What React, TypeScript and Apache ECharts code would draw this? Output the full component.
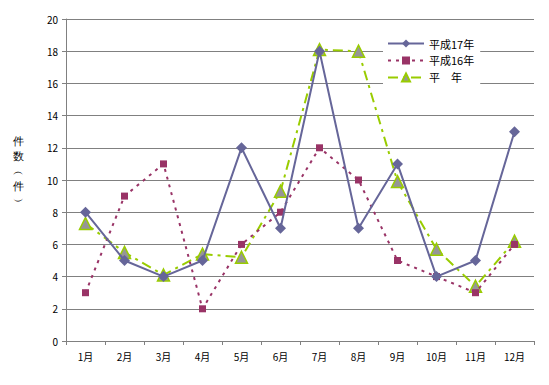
import React, { useEffect, useRef } from "react";
import * as echarts from "echarts";

const months = ["1月", "2月", "3月", "4月", "5月", "6月", "7月", "8月", "9月", "10月", "11月", "12月"];
const h17 = [8, 5, 4, 5, 12, 7, 18, 7, 11, 4, 5, 13];
const h16 = [3, 9, 11, 2, 6, 8, 12, 10, 5, 4, 3, 6];
const heinen = [7.3, 5.5, 4.1, 5.4, 5.2, 9.3, 18.1, 18.0, 9.9, 5.7, 3.4, 6.2];
const yTicks = { min: 0, max: 20, interval: 2 };

const FONT = "'Noto Sans CJK JP', sans-serif";

export default function App() {
  const ref = useRef<HTMLDivElement>(null);
  useEffect(() => {
    if (!ref.current) return;
    const chart = echarts.init(ref.current, undefined, { renderer: "svg" });
    chart.setOption({
      animation: false,
      backgroundColor: "#ffffff",
      textStyle: { fontFamily: FONT },
      grid: { left: 66, top: 19, right: 15, bottom: 44 },
      legend: {
        orient: "vertical",
        left: 383,
        top: 35,
        itemWidth: 36,
        itemHeight: 10,
        itemGap: 6,
        padding: [3, 6, 3, 4],
        backgroundColor: "#ffffff",
        textStyle: { fontSize: 11, color: "#000", fontFamily: FONT },
        data: ["平成17年", "平成16年", "平　年"],
      },
      graphic: [
        {
          type: "text",
          left: 13,
          top: 133,
          style: {
            text: "件\n数\n︵\n件\n︶",
            fontSize: 11,
            lineHeight: 15,
            fill: "#000",
            font: `11px ${FONT}`,
          },
        },
      ],
      xAxis: {
        type: "category",
        data: months,
        boundaryGap: true,
        axisLine: { lineStyle: { color: "#808080", width: 1 } },
        axisTick: { show: true, alignWithLabel: false, length: 4, lineStyle: { color: "#808080" } },
        axisLabel: { color: "#000", fontSize: 10, margin: 10, fontFamily: FONT },
      },
      yAxis: {
        type: "value",
        min: yTicks.min,
        max: yTicks.max,
        interval: yTicks.interval,
        axisLine: { show: true, lineStyle: { color: "#808080", width: 1 } },
        axisTick: { show: true, length: 4, lineStyle: { color: "#808080" } },
        axisLabel: { color: "#000", fontSize: 10, margin: 8, fontFamily: FONT },
        splitLine: { show: true, lineStyle: { color: "#808080", width: 1 } },
      },
      series: [
        {
          name: "平成17年",
          type: "line",
          data: h17,
          symbol: "diamond",
          symbolSize: 11,
          itemStyle: { color: "#666699" },
          lineStyle: { color: "#666699", width: 2 },
          z: 4,
        },
        {
          name: "平成16年",
          type: "line",
          data: h16,
          symbol: "rect",
          symbolSize: 7,
          itemStyle: { color: "#993366" },
          lineStyle: { color: "#993366", width: 2, type: [3, 5] },
          z: 3,
        },
        {
          name: "平　年",
          type: "line",
          data: heinen,
          symbol: "triangle",
          symbolSize: 12,
          itemStyle: { color: "#969696", borderColor: "#99CC00", borderWidth: 1.5 },
          lineStyle: { color: "#99CC00", width: 2, type: [10, 5, 3, 5] },
          z: 2,
        },
      ],
    });
    return () => chart.dispose();
  }, []);
  return <div ref={ref} style={{ width: 549, height: 385, margin: -8 }} />;
}
